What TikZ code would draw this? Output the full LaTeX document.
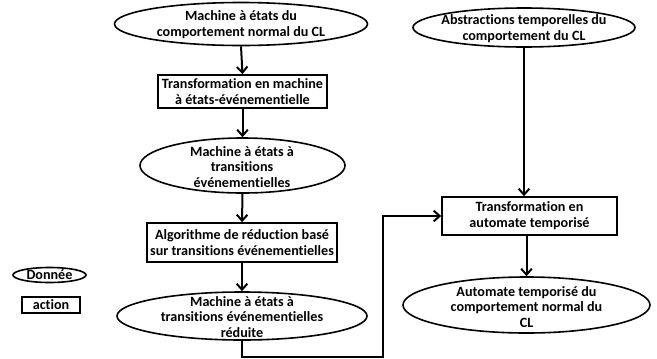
\documentclass[tikz,border=0pt]{standalone}
\usepackage{fontspec}
\setmainfont{Carlito}[Ligatures=NoCommon]
\usetikzlibrary{shapes.geometric,arrows.meta}
\begin{document}
\begin{tikzpicture}[x=0.75pt,y=-0.75pt,
  every node/.style={font=\fontsize{10.6}{11.8}\selectfont\bfseries, align=center},
  dat/.style={ellipse, draw, line width=1.2pt, inner sep=0pt},
  act/.style={rectangle, draw, line width=1.2pt, inner sep=0pt},
  lbl/.style={inner sep=0pt},
  arr/.style={line width=1.5pt, -{Straight Barb[length=4.5pt,width=8pt,line width=1.5pt]}}]
\useasboundingbox (0,0) rectangle (657,358);

% left column
\node[dat, minimum width=253*0.75pt, minimum height=43*0.75pt] (e1) at (241,24) {};
\node[lbl] at (241,25) {Machine à états du\\comportement normal du CL};

\node[act, minimum width=169*0.75pt, minimum height=33*0.75pt] (b1) at (242.5,91.5)
  {Transformation en machine\\à états-événementielle};

\node[dat, minimum width=205*0.75pt, minimum height=55*0.75pt] (e2) at (242.5,165.5) {};
\node[lbl] at (242,167) {Machine à états à\\transitions\\événementielles};

\node[act, minimum width=190*0.75pt, minimum height=39*0.75pt] (b2) at (242,242.5)
  {Algorithme de réduction basé\\sur transitions événementielles};

\node[dat, minimum width=250*0.75pt, minimum height=48*0.75pt] (e3) at (242,316) {};
\node[lbl] at (242,317) {Machine à états à\\transitions événementielles\\réduite};

% right column
\node[dat, minimum width=222*0.75pt, minimum height=39*0.75pt] (e4) at (524,27.5) {};
\node[lbl] at (524,29) {Abstractions temporelles du\\comportement du CL};

\node[act, minimum width=175*0.75pt, minimum height=38*0.75pt] (b3) at (529.5,216)
  {Transformation en\\automate temporisé};

\node[dat, minimum width=247*0.75pt, minimum height=56*0.75pt] (e5) at (526.5,305) {};
\node[lbl] at (526.5,307) {Automate temporisé du\\comportement normal du\\CL};

% legend
\node[dat, minimum width=73*0.75pt, minimum height=15*0.75pt] (ld) at (49.5,275) {};
\node[lbl] at (49.5,275) {Donnée};
\node[act, minimum width=58*0.75pt, minimum height=16*0.75pt] (la) at (51,305) {action};

% connectors
\draw[arr] (e1.south) -- (b1.north);
\draw[arr] (b1.south) -- (e2.north);
\draw[arr] (e2.south) -- (b2.north);
\draw[arr] (b2.south) -- (e3.north);

\coordinate (turn) at (383,357);
\draw[arr] (e3.south) |- (turn) |- (b3.west);

\draw[arr] (e4.south) -- (e4.south |- b3.north);
\draw[arr] (b3.south -| e5.north) -- (e5.north);
\end{tikzpicture}
\end{document}
